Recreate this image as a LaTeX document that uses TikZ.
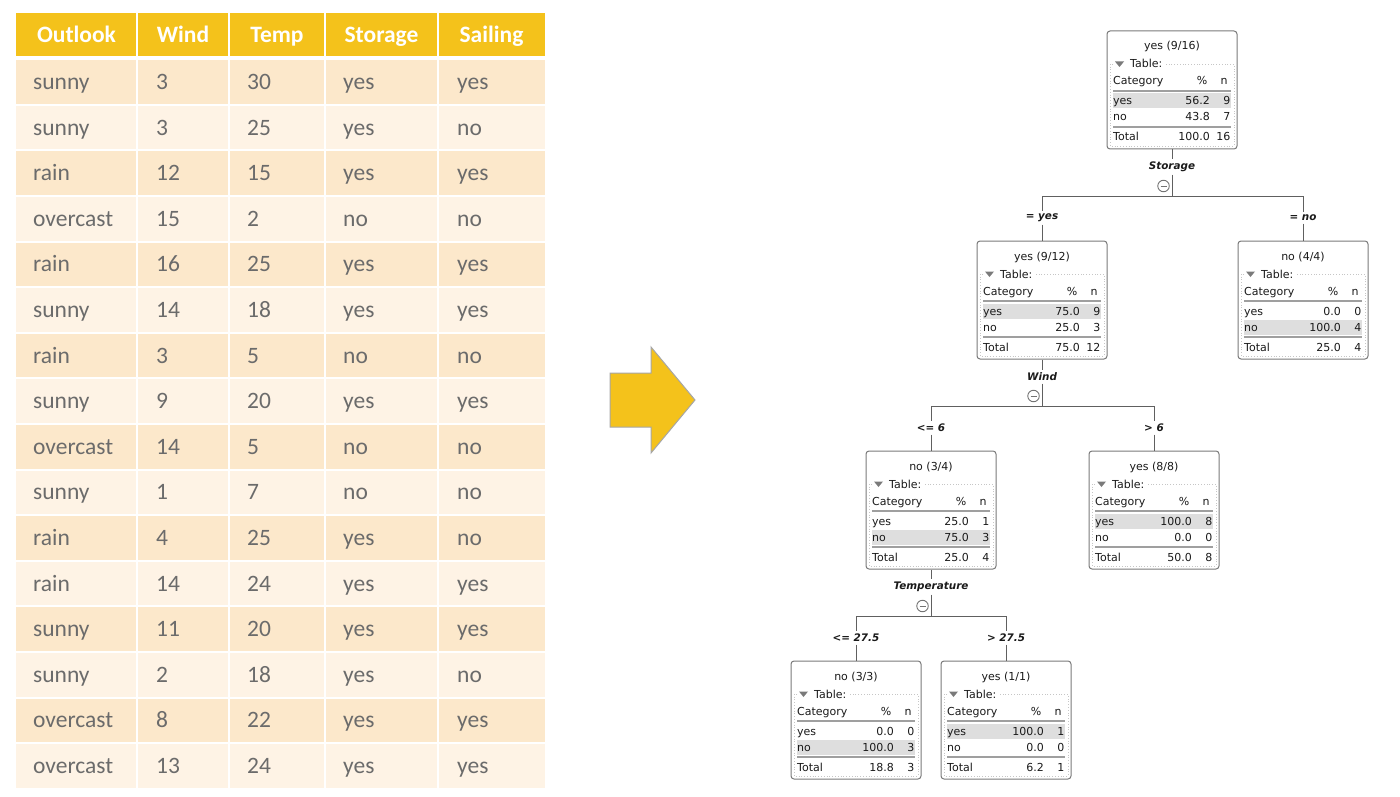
\documentclass[tikz,border=0pt]{standalone}
\usepackage{xcolor}
\usepackage{fontspec}
\usepackage{tikz}
\newfontfamily\tabfont{Carlito}
\newfontfamily\treefont{DejaVu Sans}

\definecolor{headgold}{HTML}{F4C21B}
\definecolor{rowdark}{HTML}{FCE8CB}
\definecolor{rowlight}{HTML}{FEF3E5}
\definecolor{cellink}{HTML}{6B6B6B}
\definecolor{treeink}{HTML}{1A1A1A}
\definecolor{framegray}{HTML}{7A7A7A}
\definecolor{hlgray}{HTML}{DEDEDE}

\tikzset{
  cell/.style={font=\tabfont\fontsize{23.5}{28}\selectfont, text=cellink, anchor=base west, inner sep=0},
  headcell/.style={font=\tabfont\bfseries\fontsize{23.5}{28}\selectfont, text=white, anchor=base, inner sep=0},
  tt/.style={font=\treefont\fontsize{11}{13}\selectfont, text=treeink, inner sep=0},
  catframe/.style={draw=framegray, line width=1, rounded corners=3, minimum width=130, minimum height=118, inner sep=0},
  groupline/.style={draw=gray!45, line width=0.8, dotted},
  sepline/.style={draw=gray!75, line width=1.1},
  splitlab/.style={font=\treefont\bfseries\itshape\fontsize{10.4}{12}\selectfont, text=treeink, inner sep=2.5},
  edgelab/.style={font=\treefont\bfseries\itshape\fontsize{10.4}{12}\selectfont, text=treeink, inner sep=2.5},
  collapse/.style={draw=gray!90!black, line width=0.9, circle, minimum size=11.5, inner sep=0},
  link/.style={draw=gray!75!black, line width=1}
}

% one box of the tree: name, left x, top y, title, rows, highlighted row
\newcommand{\catbox}[6]{%
  \begin{scope}[shift={(#2,#3)}]
    \node[catframe] (#1) at (65,59) {};
    \fill[hlgray] (6,#6-7.5) rectangle (124,#6+7.5);
    \draw[groupline] (6,33) -- (3,33) -- (3,115) -- (127,115) -- (127,33) -- (58,33);
    \fill[framegray] (8,30.5) -- (17,30.5) -- (12.5,36) -- cycle;
    \node[tt,anchor=base] (#1-t) at (65,19) {#4};
    \node[tt,anchor=base west] (#1-g) at (23,37) {Table:};
    \node[tt,anchor=base west] (#1-c) at (6,54) {Category};
    \node[tt,anchor=base] (#1-pc) at (95,54) {\%};
    \node[tt,anchor=base] (#1-nc) at (117,54) {n};
    \draw[sepline] (6,60) -- (124,60);
    \draw[sepline] (6,96) -- (124,96);
    \foreach \lab/\pct/\cnt [count=\i] in {#5} {
      \pgfmathsetmacro\ry{54+16*\i+4*(\i==3)}
      \node[tt,anchor=base west] (#1-l\i) at (6,\ry+4) {\lab};
      \node[tt,anchor=base east] (#1-p\i) at (103,\ry+4) {\pct};
      \node[tt,anchor=base east] (#1-n\i) at (123.5,\ry+4) {\cnt};
    }
  \end{scope}}

\begin{document}
\begin{tikzpicture}[x=1pt,y=-1pt]
	 \fill[white] (0,0) rectangle (1400,797);
	 \useasboundingbox (0,0) rectangle (1400,797);
	 % data table
	 \fill[headgold] (16,13) rectangle (545,56);
	 \foreach \hx/\htxt [count=\k] in {76.5/Outlook,183/Wind,277/Temp,381.5/Storage,491.5/Sailing}
	   \node[headcell] (h\k) at (\hx,42.5) {\htxt};
	 \foreach \ov/\wv/\tv/\sv/\gv [count=\i] in {sunny/3/30/yes/yes, sunny/3/25/yes/no, rain/12/15/yes/yes,
	     overcast/15/2/no/no, rain/16/25/yes/yes, sunny/14/18/yes/yes, rain/3/5/no/no,
	     sunny/9/20/yes/yes, overcast/14/5/no/no, sunny/1/7/no/no, rain/4/25/yes/no,
	     rain/14/24/yes/yes, sunny/11/20/yes/yes, sunny/2/18/yes/no, overcast/8/22/yes/yes,
	     overcast/13/24/yes/yes} {
	   \pgfmathsetmacro\ry{82+45.6*(\i-1)}
	   \ifodd\i \def\rc{rowdark}\else\def\rc{rowlight}\fi
	   \fill[\rc] (16,\ry-21.8) rectangle (545,\ry+21.8);
	   \node[cell] (o\i) at (33,\ry+7.5) {\ov};
	   \node[cell] (w\i) at (156,\ry+7.5) {\wv};
	   \node[cell] (t\i) at (247,\ry+7.5) {\tv};
	   \node[cell] (s\i) at (343,\ry+7.5) {\sv};
	   \node[cell] (g\i) at (457,\ry+7.5) {\gv};
	 }
	 \foreach \cx in {137,229,325,438}
	   \draw[white,line width=2] (\cx,12) -- (\cx,789);
	 % big arrow
	 \filldraw[fill=headgold,draw=gray!70,line width=1] (610,373) -- (651,373) -- (651,347) -- (695,400)
	   -- (651,453) -- (651,427) -- (610,427) -- cycle;
	 % decision tree
	 \catbox{root}{1107}{31}{yes (9/16)}{yes/56.2/9, no/43.8/7, Total/100.0/16}{70}
	 \catbox{sy}{977}{241}{yes (9/12)}{yes/75.0/9, no/25.0/3, Total/75.0/12}{70}
	 \catbox{sn}{1238}{241}{no (4/4)}{yes/0.0/0, no/100.0/4, Total/25.0/4}{86}
	 \catbox{wl}{866}{451}{no (3/4)}{yes/25.0/1, no/75.0/3, Total/25.0/4}{86}
	 \catbox{wh}{1089}{451}{yes (8/8)}{yes/100.0/8, no/0.0/0, Total/50.0/8}{70}
	 \catbox{tl}{791}{661}{no (3/3)}{yes/0.0/0, no/100.0/3, Total/18.8/3}{86}
	 \catbox{th}{941}{661}{yes (1/1)}{yes/100.0/1, no/0.0/0, Total/6.2/1}{70}
	 % Storage split
	 \node[splitlab] (storage) at (1172,167) {Storage};
	 \node[collapse] (m1) at (1163.5,186) {};
	 \draw[gray!90!black,line width=0.9] (m1.center) +(-3,0) -- +(3,0);
	 \coordinate (j1) at (1172,196);
	 \node[edgelab] (eyes) at (1042,218) {= yes};
	 \node[edgelab] (eno) at (1303,218) {= no};
	 \draw[link] (root) -- (storage);
	 \draw[link] (storage) -- (j1);
	 \draw[link] (j1) -| (eyes);
	 \draw[link] (j1) -| (eno);
	 \draw[link] (eyes) -- (sy);
	 \draw[link] (eno) -- (sn);
	 % Wind split
	 \node[splitlab] (wind) at (1042,377) {Wind};
	 \node[collapse] (m2) at (1033.5,396) {};
	 \draw[gray!90!black,line width=0.9] (m2.center) +(-3,0) -- +(3,0);
	 \coordinate (j2) at (1042,406);
	 \node[edgelab] (wle) at (931,428) {<= 6};
	 \node[edgelab] (wgt) at (1154,428) {> 6};
	 \draw[link] (sy) -- (wind);
	 \draw[link] (wind) -- (j2);
	 \draw[link] (j2) -| (wle);
	 \draw[link] (j2) -| (wgt);
	 \draw[link] (wle) -- (wl);
	 \draw[link] (wgt) -- (wh);
	 % Temperature split
	 \node[splitlab] (temp) at (931,587) {Temperature};
	 \node[collapse] (m3) at (922.5,606) {};
	 \draw[gray!90!black,line width=0.9] (m3.center) +(-3,0) -- +(3,0);
	 \coordinate (j3) at (931,616);
	 \node[edgelab] (tle) at (856,638) {<= 27.5};
	 \node[edgelab] (tgt) at (1006,638) {> 27.5};
	 \draw[link] (wl) -- (temp);
	 \draw[link] (temp) -- (j3);
	 \draw[link] (j3) -| (tle);
	 \draw[link] (j3) -| (tgt);
	 \draw[link] (tle) -- (tl);
	 \draw[link] (tgt) -- (th);
\end{tikzpicture}
\end{document}
